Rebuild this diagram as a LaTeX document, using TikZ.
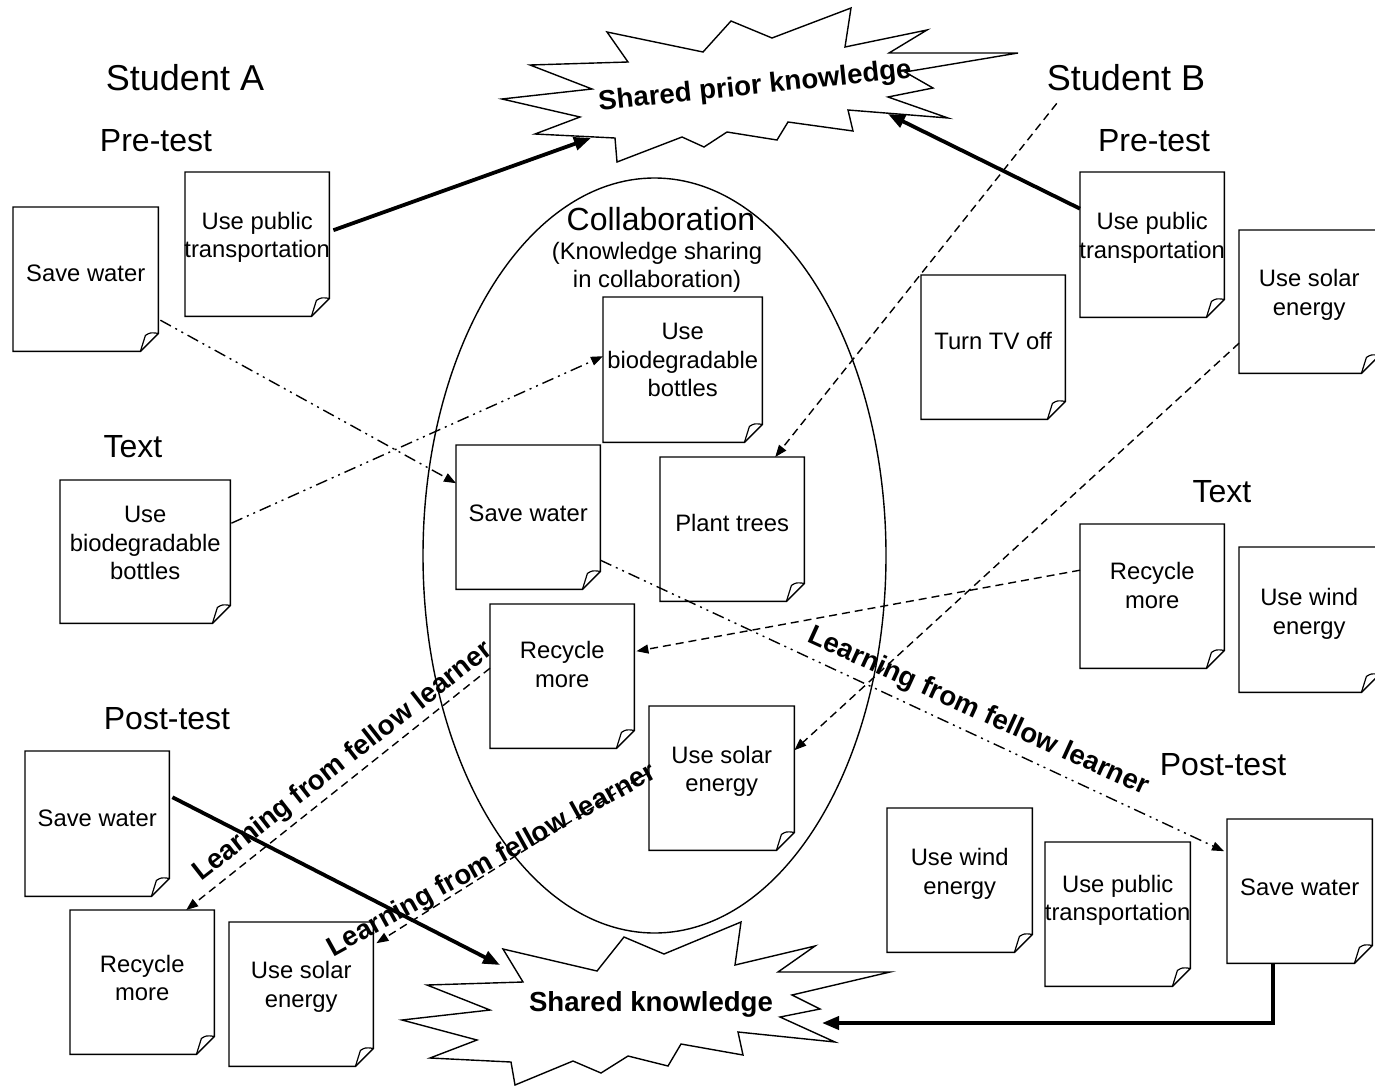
\documentclass[tikz,border=0pt]{standalone}
\usepackage{fontspec}
\setmainfont{Liberation Sans}
\usetikzlibrary{arrows.meta,shapes.geometric,calc}

\tikzset{
  notebox/.style={rectangle, inner sep=0pt, anchor=north west},
  noteline/.style={draw=black, line width=1.4pt, line join=miter},
  notetext/.style={align=center, inner sep=0pt, font=\fontsize{23.8pt}{28.5pt}\selectfont},
  heading/.style={inner sep=0pt, font=\fontsize{32pt}{38pt}\selectfont},
  student/.style={inner sep=0pt, font=\fontsize{36pt}{42pt}\selectfont},
  subheading/.style={inner sep=0pt, align=center, font=\fontsize{23.8pt}{28pt}\selectfont},
  boldlabel/.style={inner sep=0pt, font=\bfseries\fontsize{27.6pt}{31pt}\selectfont},
  burst/.style={draw=black, line width=1.4pt, fill=white, line join=miter},
  solidlink/.style={line width=3.8pt, -{Triangle[length=17pt,width=13pt]}},
  dashlink/.style={line width=1.4pt, dash pattern=on 8pt off 5pt, -{Triangle[length=12pt,width=9pt]}},
  dotdashlink/.style={line width=1.4pt, dash pattern=on 12pt off 5pt on 2pt off 5pt on 2pt off 5pt, -{Triangle[length=12pt,width=9pt]}},
}

% sticky note: name, left, top, width, height, text lift, text
\newcommand\stickynote[7]{%
  \node[notebox, minimum width=#4pt, minimum height=#5pt] (#1) at (#2,#3) {};
  \draw[noteline] (#1.north west) -- (#1.north east) -- ([yshift=18pt]#1.south east)
    -- ([xshift=-18pt]#1.south east) -- (#1.south west) -- cycle;
  \draw[noteline, line width=1.2pt] ([xshift=-18pt]#1.south east) -- ([xshift=-13pt,yshift=16pt]#1.south east)
    .. controls ([xshift=-8pt,yshift=19pt]#1.south east) .. ([yshift=18pt]#1.south east);
  \node[notetext] (#1-t) at ([yshift=#6pt]#1.center) {#7};
}

\begin{document}
\begin{tikzpicture}[x=1pt,y=-1pt]
\useasboundingbox (0,0) rectangle (1375,1087);
\clip (0,0) rectangle (1375,1087);

% collaboration ellipse
\node[draw, ellipse, line width=1.4pt, inner sep=0pt, minimum width=463pt, minimum height=755pt] (collab) at (654.5,555.5) {};

% explosion shapes
\draw[burst] (530,65) -- (628,62) -- (607,32) -- (703,52) -- (731,21) -- (772,38) -- (851,8)
  -- (845,47) -- (927,30) -- (889,53) -- (1018,53) -- (905,72) -- (933,88) -- (888,97)
  -- (948,118) -- (848,110) -- (853,131) -- (788,122) -- (777,140) -- (727,132) -- (704,147)
  -- (682,137) -- (617,162) -- (615,138) -- (535,134) -- (580,117) -- (502,99) -- (592,89) -- cycle;
\node[boldlabel, rotate=6] (prior) at (755,87) {Shared prior knowledge};
\coordinate (priorA) at (591,138);
\coordinate (priorB) at (888,114);

\draw[burst] (503,949) -- (597,971) -- (624,937) -- (664,954) -- (741,922) -- (735,965)
  -- (815,946) -- (778,972) -- (890,972) -- (792,995) -- (820,1009) -- (780,1017) -- (835,1042)
  -- (738,1032) -- (743,1055) -- (681,1044) -- (668,1066) -- (628,1056) -- (601,1073)
  -- (573,1061) -- (515,1085) -- (511,1062) -- (430,1058) -- (477,1040) -- (402,1020)
  -- (490,1010) -- (427,985) -- (523,982) -- cycle;
\node[boldlabel] (shared) at (651,1004) {Shared knowledge};
\coordinate (sharedA) at (500,965);
\coordinate (sharedB) at (822,1023);

% headings
\node[student] (SA) at (185,78) {Student A};
\node[student] (SB) at (1126,78) {Student B};
\node[heading] (preA) at (156,141) {Pre-test};
\node[heading] (preB) at (1154,141) {Pre-test};
\node[heading] (textA) at (133,447) {Text};
\node[heading] (textB) at (1222,492) {Text};
\node[heading] (postA) at (167,719) {Post-test};
\node[heading] (postB) at (1223,765) {Post-test};
\node[heading] (colT) at (661,219) {Collaboration};
\node[subheading] (colS) at (657,267) {(Knowledge sharing\\in collaboration)};

% student A notes
\stickynote{Asave}{13}{207}{145}{144}{6}{Save water}
\stickynote{Apub}{185}{172}{144}{144}{7}{Use public\\transportation}
\stickynote{Abio}{60}{480}{170}{143}{8.5}{Use\\biodegradable\\bottles}
\stickynote{ApSave}{25}{751}{144}{145}{5.5}{Save water}
\stickynote{ApRec}{70}{910}{144}{144}{4}{Recycle\\more}
\stickynote{ApSolar}{229}{922}{144}{144}{7.5}{Use solar\\energy}

% collaboration notes
\stickynote{Cbio}{603}{297}{159}{145}{9.5}{Use\\biodegradable\\bottles}
\stickynote{Csave}{456}{445}{144}{144}{4}{Save water}
\stickynote{Cplant}{660}{457}{144}{144}{6}{Plant trees}
\stickynote{Crec}{490}{604}{144}{144}{11.5}{Recycle\\more}
\stickynote{Csolar}{649}{706}{145}{144}{7}{Use solar\\energy}

% student B notes
\stickynote{Bpub}{1080}{172}{144}{145}{7}{Use public\\transportation}
\stickynote{Bsolar}{1239}{230}{140}{143}{7}{Use solar\\energy}
\stickynote{Btv}{921}{275}{144}{144}{6}{Turn TV off}
\stickynote{Brec}{1080}{524}{144}{144}{10.5}{Recycle\\more}
\stickynote{Bwind}{1239}{547}{140}{145}{6}{Use wind\\energy}
\stickynote{BpWind}{887}{808}{145}{144}{6.5}{Use wind\\energy}
\stickynote{BpPub}{1045}{842}{145}{144}{14}{Use public\\transportation}
\stickynote{BpSave}{1227}{819}{145}{144}{4}{Save water}

% links into the collaboration
\draw[dotdashlink] ([xshift=2pt,yshift=-41pt]Asave.east) -- ([yshift=34pt]Csave.west);
\draw[dotdashlink] ([xshift=1pt,yshift=28.5pt]Abio.east) -- ([yshift=13.5pt]Cbio.west);
\draw[dashlink] ([xshift=10pt,yshift=-12pt]SB.south west) -- ([xshift=43pt]Cplant.north);
\draw[dashlink] ([yshift=-41.5pt]Bsolar.west) -- ([yshift=28pt]Csolar.east);
\draw[dashlink] ([yshift=26pt]Brec.west) -- ([xshift=2pt,yshift=25pt]Crec.east);

% links out of the collaboration
\draw[dashlink] ([yshift=8pt]Crec.west) -- ([xshift=44pt]ApRec.north);
\draw[dashlink] ([yshift=6pt]Csolar.west) -- ([xshift=3pt,yshift=51pt]ApSolar.east);
\draw[dotdashlink] ([yshift=-43pt]Csave.east) -- ([xshift=-3pt,yshift=40pt]BpSave.west);

% links to shared knowledge
\draw[solidlink] ([xshift=4pt,yshift=14pt]Apub.east) -- (priorA);
\draw[solidlink] ([yshift=36pt]Bpub.west) -- (priorB);
\draw[solidlink] ([xshift=3pt,yshift=26.5pt]ApSave.east) -- (sharedA);
\draw[solidlink] ([xshift=-27pt]BpSave.south) |- (sharedB);

% link labels
\node[boldlabel, rotate=-24.5] (learnB) at (978,712) {Learning from fellow learner};
\node[boldlabel, rotate=38] (learnA1) at (343,762) {Learning from fellow learner};
\node[boldlabel, rotate=29] (learnA2) at (492,861) {Learning from fellow learner};
\end{tikzpicture}
\end{document}
